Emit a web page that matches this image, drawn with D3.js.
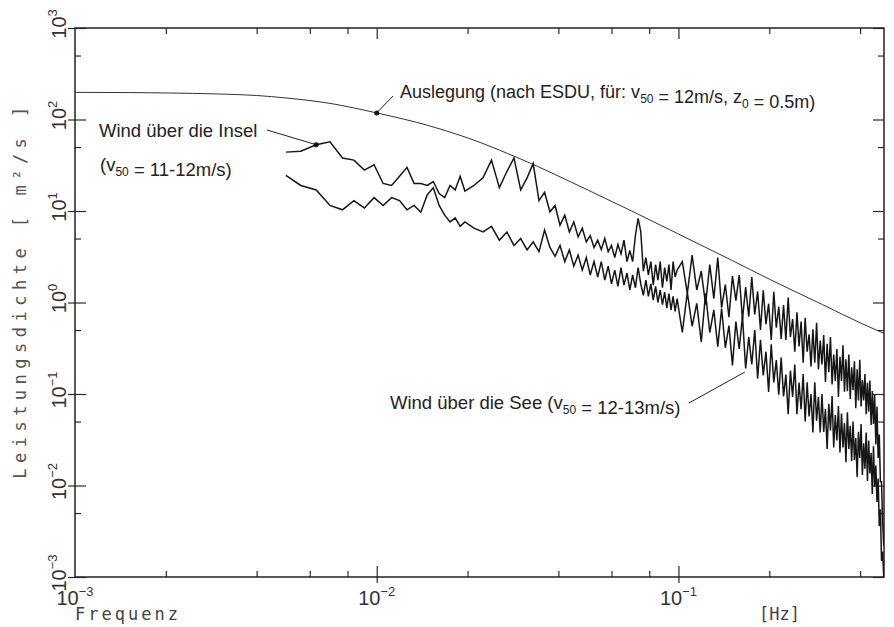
<!DOCTYPE html>
<html>
<head>
<meta charset="utf-8">
<script src="https://cdn.jsdelivr.net/npm/d3@7"></script>
<style>
  body { margin: 0; background: #fff; }
</style>
</head>
<body>
<div id="chart"></div>
<script>
// frequencies [Hz] shared by both measured spectra
let freq = [
  0.0050, 0.0056, 0.0063, 0.0070, 0.0077, 0.0084, 0.0091, 0.0098, 0.0105, 0.0112, 0.0119,
  0.0126, 0.0133, 0.0140, 0.0147, 0.0154, 0.0161, 0.0168, 0.0175, 0.0182, 0.0189, 0.0196,
  0.0210, 0.0225, 0.0240, 0.0255, 0.0270, 0.0285, 0.0300, 0.0315, 0.0330, 0.0345,
  0.0360, 0.0375, 0.0390, 0.0405, 0.0420, 0.0435, 0.0450, 0.0465, 0.0480, 0.0495,
  0.0510, 0.0525, 0.0540, 0.0555, 0.0570, 0.0585, 0.0600, 0.0615, 0.0630, 0.0645,
  0.0660, 0.0675, 0.0690, 0.0705, 0.0720, 0.0735, 0.0750, 0.0765, 0.0780, 0.0795,
  0.0810, 0.0825, 0.0840, 0.0855, 0.0870, 0.0885, 0.0900, 0.0915, 0.0930, 0.0945,
  0.0960, 0.0975, 0.0990,
  0.103, 0.107, 0.111, 0.115, 0.119, 0.123, 0.127, 0.131, 0.135, 0.139,
  0.143, 0.147, 0.151, 0.155, 0.159, 0.163, 0.167, 0.171, 0.175, 0.179,
  0.183, 0.187, 0.191, 0.195, 0.199, 0.203, 0.207, 0.211, 0.215, 0.219,
  0.223, 0.227, 0.231, 0.235, 0.239, 0.243, 0.247, 0.251, 0.255, 0.259,
  0.263, 0.267, 0.271, 0.275, 0.279, 0.283, 0.287, 0.291, 0.295, 0.299,
  0.303, 0.307, 0.311, 0.315, 0.319, 0.323, 0.327, 0.331, 0.335, 0.339,
  0.343, 0.347, 0.351, 0.355, 0.359, 0.363, 0.367, 0.371, 0.375, 0.379,
  0.383, 0.387, 0.391, 0.395, 0.399, 0.403, 0.407, 0.411, 0.415, 0.419,
  0.423, 0.427, 0.431, 0.435, 0.439, 0.443, 0.447, 0.451, 0.455, 0.459,
  0.463, 0.467, 0.471, 0.475, 0.479
];

// Wind über die Insel [m²/s]
let insel = [
  44, 45, 53, 57, 38, 36, 28, 32, 20, 19, 24, 30, 20, 20, 19, 21, 15.5, 14, 19, 17, 24, 16.5,
  19, 23, 36, 18, 27, 38, 17, 23, 33, 13, 16, 9.8, 11.5, 7, 9, 5.9, 7.6, 5.2, 6.5, 4.6,
  5.4, 4.0, 4.8, 3.8, 5.0, 3.6, 4.2, 3.1, 4.3, 3.4, 4.8, 2.8, 3.7, 2.8, 5.4, 8.3, 6, 2.2,
  3.1, 2.0, 2.8, 1.55, 2.6, 1.76, 2.8, 1.45, 2.4, 1.7, 2.6, 1.37, 2.8, 1.9, 2.26,
  2.8, 1.26, 3.3, 1.37, 2.2, 0.95, 2.6, 1.1, 3.1, 0.88,
  1.57, 0.69, 1.94, 1.05, 2.0, 0.65, 1.47, 0.7, 1.9, 0.74,
  1.32, 0.5, 1.36, 0.58, 0.97, 0.39, 1.31, 0.53, 0.9, 0.4,
  0.94, 0.39, 1.13, 0.42, 0.66, 0.29, 0.78, 0.33, 0.62, 0.22,
  0.68, 0.29, 0.45, 0.2, 0.51, 0.22, 0.6, 0.186, 0.385, 0.21,
  0.44, 0.135, 0.354, 0.173, 0.42, 0.127, 0.27, 0.139, 0.31, 0.093,
  0.255, 0.139, 0.34, 0.106, 0.24, 0.107, 0.27, 0.088, 0.196, 0.11,
  0.228, 0.07, 0.186, 0.085, 0.236, 0.073, 0.142, 0.085, 0.165, 0.06,
  0.133, 0.064, 0.14, 0.046, 0.108, 0.047, 0.098, 0.028, 0.073, 0.02,
  0.036, 0.011, 0.011, 0.004, 0.0022
];

// Wind über die See [m²/s]
let see = [
  24.5, 19, 17, 11.5, 10.3, 13, 10.8, 14, 11.5, 14, 13, 10.3, 11.5, 9.7, 15, 18, 11.5, 9, 7.6, 8.4, 6.8, 7.6,
  6.5, 5.9, 6.8, 4.8, 5.9, 4.2, 5.0, 3.75, 4.6, 3.6, 6.2, 4.0, 3.2, 4.2, 2.8, 3.75, 2.5, 3.3, 2.26, 3.1,
  2.0, 2.8, 1.9, 2.8, 1.76, 2.5, 1.6, 2.26, 1.5, 2.4, 1.55, 2.1, 1.37, 2.0, 1.45, 2.4, 1.6, 1.2, 1.76, 1.17,
  1.6, 1.06, 1.5, 1.0, 1.37, 0.95, 1.3, 0.87, 1.25, 0.83, 1.17, 0.8, 1.1,
  0.47, 1.29, 0.55, 0.98, 0.37, 1.26, 0.47, 0.83, 0.33, 0.86,
  0.32, 0.56, 0.205, 0.62, 0.31, 0.71, 0.19, 0.42, 0.21, 0.5,
  0.148, 0.39, 0.16, 0.29, 0.105, 0.35, 0.134, 0.235, 0.098, 0.25,
  0.094, 0.163, 0.06, 0.18, 0.093, 0.21, 0.06, 0.133, 0.068, 0.165,
  0.05, 0.134, 0.057, 0.1, 0.038, 0.134, 0.051, 0.093, 0.038, 0.1,
  0.0385, 0.069, 0.025, 0.078, 0.04, 0.095, 0.026, 0.059, 0.031, 0.074,
  0.023, 0.061, 0.026, 0.048, 0.018, 0.063, 0.025, 0.045, 0.0185, 0.05,
  0.019, 0.033, 0.0124, 0.0386, 0.02, 0.047, 0.013, 0.029, 0.0153, 0.038,
  0.0112, 0.031, 0.0135, 0.0228, 0.0081, 0.0268, 0.0097, 0.0165, 0.0066, 0.0119,
  0.0036, 0.0055, 0.0015, 0.0019, 0.001
];

// design spectrum (ESDU)
let designFreq = [0.001, 0.0015, 0.002, 0.003, 0.004, 0.005, 0.007, 0.01, 0.015, 0.02,
  0.03, 0.05, 0.07, 0.1, 0.15, 0.2, 0.3, 0.4, 0.48];
let designPsd = [198, 197, 195, 190, 183, 172, 150, 118, 85, 63,
  37, 17, 10, 5.6, 2.9, 1.8, 0.95, 0.6, 0.46];

// ticks
let xTickExp = ['-3', '-2', '-1'];
let yTickExp = ['3', '2', '1', '0', '-1', '-2', '-3'];
let xMinorTicks = [0.002, 0.004, 0.006, 0.008, 0.02, 0.04, 0.06, 0.08, 0.2, 0.4];
let yMinorTicks = [0.005, 0.05, 0.5, 5, 50, 500];

// svg size and plot borders
let svgWidth = 894;
let svgHeight = 627;

let margin = {
  top: 28,
  right: 10,
  bottom: 50,
  left: 75
};

let width = svgWidth - margin.left - margin.right;
let height = svgHeight - margin.top - margin.bottom;

let svg = d3.select('#chart')
  .append('svg')
  .attr('width', svgWidth)
  .attr('height', svgHeight);

let chartGroup = svg.append('g')
  .attr('transform', `translate(${margin.left}, ${margin.top})`);

let xScale = d3.scaleLog().domain([0.001, 0.48]).range([0, width]);
let yScale = d3.scaleLog().domain([0.001, 1000]).range([height, 0]);

svg.append('defs').append('clipPath')
  .attr('id', 'plotClip')
  .append('rect')
  .attr('width', width)
  .attr('height', height);

// tick marks on all four sides (major ticks cross the frame)
let majorX = xTickExp.map(e => Math.pow(10, +e));
let majorY = yTickExp.map(e => Math.pow(10, +e));

function addTicks(axisFn, scale, values, size, transform) {
  let g = chartGroup.append('g')
    .attr('transform', transform)
    .call(axisFn(scale).tickValues(values).tickSize(size).tickFormat(''));
  g.select('.domain').remove();
  g.selectAll('line').attr('stroke', '#2a2a2a').attr('stroke-width', 1.2);
}

addTicks(d3.axisBottom, xScale, majorX.slice(1), -11, `translate(0, ${height})`);
addTicks(d3.axisBottom, xScale, majorX.slice(1), 6, `translate(0, ${height})`);
addTicks(d3.axisBottom, xScale, xMinorTicks, -6, `translate(0, ${height})`);
addTicks(d3.axisTop, xScale, majorX.slice(1), -11, 'translate(0, 0)');
addTicks(d3.axisTop, xScale, xMinorTicks, -6, 'translate(0, 0)');
addTicks(d3.axisLeft, yScale, majorY, -11, 'translate(0, 0)');
addTicks(d3.axisLeft, yScale, majorY, 7, 'translate(0, 0)');
addTicks(d3.axisLeft, yScale, yMinorTicks, -6, 'translate(0, 0)');
addTicks(d3.axisRight, yScale, majorY, -11, `translate(${width}, 0)`);
addTicks(d3.axisRight, yScale, yMinorTicks, -6, `translate(${width}, 0)`);

// frame
chartGroup.append('rect')
  .attr('width', width)
  .attr('height', height)
  .attr('fill', 'none')
  .attr('stroke', '#222')
  .attr('stroke-width', 1.5);

// x tick labels 10^n
let xLabels = chartGroup.append('g')
  .attr('font-family', '"Liberation Sans", Arial, sans-serif')
  .attr('fill', '#333');

xLabels.selectAll('text')
  .data(xTickExp)
  .enter()
  .append('text')
  .attr('x', d => xScale(Math.pow(10, +d)))
  .attr('y', height + 28)
  .attr('text-anchor', 'middle')
  .each(function(d) {
    let t = d3.select(this);
    t.append('tspan').attr('font-size', '20px').text('10');
    t.append('tspan').attr('font-size', '13px').attr('dy', -9).text(d.replace('-', '\u2212'));
  });

// y tick labels 10^n, rotated
let yLabels = chartGroup.append('g')
  .attr('font-family', '"Liberation Sans", Arial, sans-serif')
  .attr('fill', '#333');

yLabels.selectAll('text')
  .data(yTickExp)
  .enter()
  .append('text')
  .attr('transform', d => `translate(-9, ${yScale(Math.pow(10, +d))}) rotate(-90)`)
  .attr('x', 4)
  .attr('text-anchor', 'middle')
  .each(function(d) {
    let t = d3.select(this);
    t.append('tspan').attr('font-size', '20px').text('10');
    t.append('tspan').attr('font-size', '13px').attr('dy', -9).text(d.replace('-', '\u2212'));
  });

// axis titles
chartGroup.append('text')
  .attr('transform', `translate(${-margin.left + 26}, 262) rotate(-90)`)
  .attr('text-anchor', 'middle')
  .attr('font-family', '"DejaVu Sans Mono", monospace')
  .attr('font-size', '17px')
  .attr('letter-spacing', '5.5px')
  .attr('fill', '#555')
  .text('Leistungsdichte [ m\u00b2/s ]');

chartGroup.append('text')
  .attr('x', 0)
  .attr('y', height + 43)
  .attr('font-family', '"DejaVu Sans Mono", monospace')
  .attr('font-size', '17px')
  .attr('letter-spacing', '3px')
  .attr('fill', '#444')
  .text('Frequenz');

chartGroup.append('text')
  .attr('x', 684)
  .attr('y', height + 43)
  .attr('font-family', '"DejaVu Sans Mono", monospace')
  .attr('font-size', '17px')
  .attr('fill', '#444')
  .text('[Hz]');

// lines
let line = d3.line()
  .x(d => xScale(d.f))
  .y(d => yScale(d.s));

let designData = designFreq.map((f, i) => ({f: f, s: designPsd[i]}));
let inselData = freq.map((f, i) => ({f: f, s: insel[i]}));
let seeData = freq.map((f, i) => ({f: f, s: see[i]}));

let plotArea = chartGroup.append('g').attr('clip-path', 'url(#plotClip)');

plotArea.append('path')
  .datum(designData)
  .attr('d', line.curve(d3.curveMonotoneX))
  .attr('fill', 'none')
  .attr('stroke', '#333')
  .attr('stroke-width', 1);

line.curve(d3.curveLinear);

plotArea.append('path')
  .datum(seeData)
  .attr('d', line)
  .attr('fill', 'none')
  .attr('stroke', '#161616')
  .attr('stroke-width', 1.5);

plotArea.append('path')
  .datum(inselData)
  .attr('d', line)
  .attr('fill', 'none')
  .attr('stroke', '#161616')
  .attr('stroke-width', 1.5);

// annotations
let annot = chartGroup.append('g')
  .attr('font-family', '"Liberation Sans", Arial, sans-serif')
  .attr('font-size', '18.5px')
  .attr('fill', '#222');

function subText(sel, parts) {
  parts.forEach(p => {
    if (p.sub) {
      sel.append('tspan').attr('font-size', '12px').attr('dy', 5).text(p.sub);
      sel.append('tspan').attr('dy', -5).text('');
    } else {
      sel.append('tspan').text(p.t);
    }
  });
}

let designDot = {f: 0.01, s: 118};
let inselDot = {f: 0.0063, s: 53};
let seeTip = {f: 0.166, s: 0.174};

// Auslegung
annot.append('line')
  .attr('x1', xScale(designDot.f)).attr('y1', yScale(designDot.s))
  .attr('x2', 318).attr('y2', 68)
  .attr('stroke', '#222').attr('stroke-width', 1);
annot.append('circle')
  .attr('cx', xScale(designDot.f)).attr('cy', yScale(designDot.s))
  .attr('r', 2.5).attr('fill', '#111');
subText(annot.append('text').attr('x', 325).attr('y', 70).attr('font-size', '18px'), [
  {t: 'Auslegung (nach ESDU, für: v'}, {sub: '50'}, {t: ' = 12m/s, z'}, {sub: '0'}, {t: ' = 0.5m)'}
]);

// Insel
annot.append('text').attr('x', 24).attr('y', 109).text('Wind über die Insel');
subText(annot.append('text').attr('x', 25).attr('y', 143), [
  {t: '(v'}, {sub: '50'}, {t: ' = 11-12m/s)'}
]);
annot.append('line')
  .attr('x1', 192).attr('y1', 102)
  .attr('x2', xScale(inselDot.f)).attr('y2', yScale(inselDot.s))
  .attr('stroke', '#222').attr('stroke-width', 1);
annot.append('circle')
  .attr('cx', xScale(inselDot.f)).attr('cy', yScale(inselDot.s))
  .attr('r', 2.5).attr('fill', '#111');

// See
subText(annot.append('text').attr('x', 315).attr('y', 381), [
  {t: 'Wind über die See (v'}, {sub: '50'}, {t: ' = 12-13m/s)'}
]);
annot.append('line')
  .attr('x1', 614).attr('y1', 375)
  .attr('x2', xScale(seeTip.f)).attr('y2', yScale(seeTip.s))
  .attr('stroke', '#222').attr('stroke-width', 1);
</script>
</body>
</html>
